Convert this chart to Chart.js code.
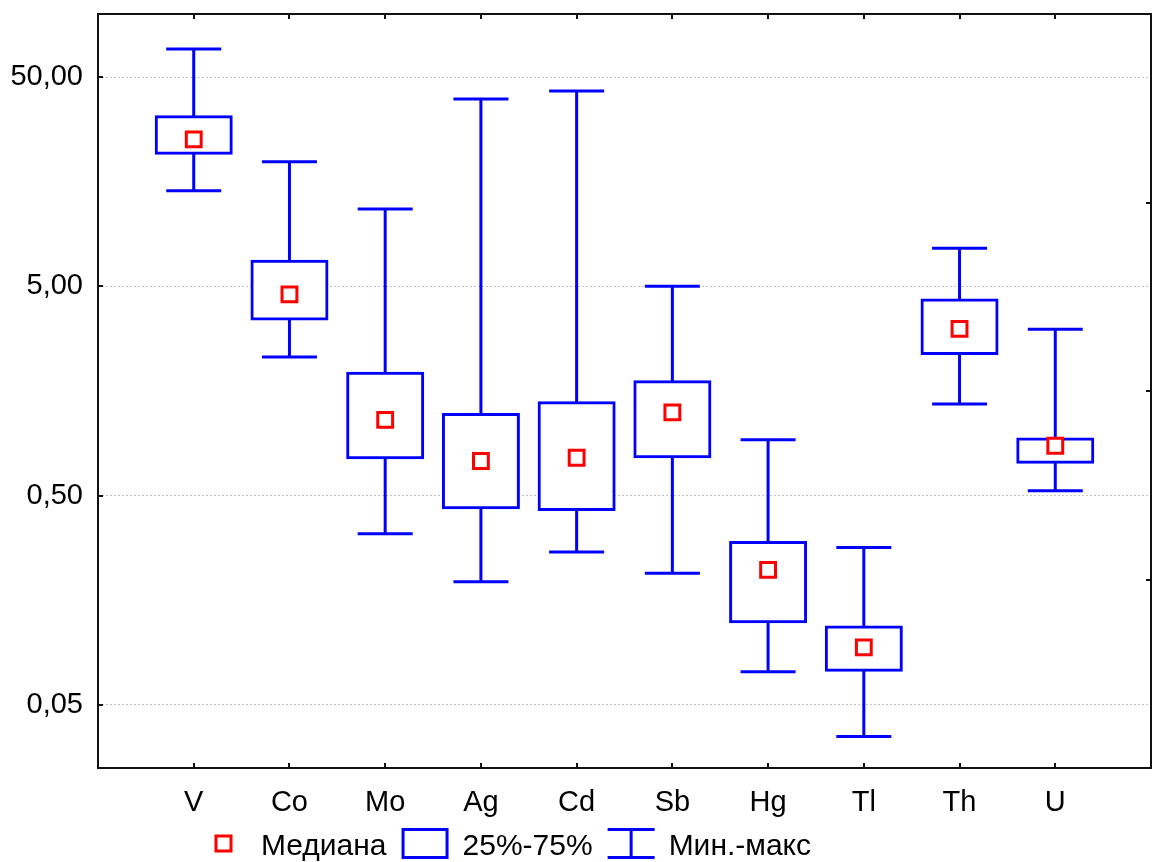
<!DOCTYPE html>
<html>
<head>
<meta charset="utf-8">
<title>Box plot</title>
<script src="https://cdn.jsdelivr.net/npm/chart.js@4.4.1/dist/chart.umd.min.js"></script>
<style>
  html, body { margin: 0; padding: 0; background: #ffffff; }
  #wrap { width: 1157px; height: 862px; position: relative; }
</style>
</head>
<body>
<div id="wrap"><canvas id="chart"></canvas></div>
<script>
// Elements and their summary statistics
const categories = ['V', 'Co', 'Mo', 'Ag', 'Cd', 'Sb', 'Hg', 'Tl', 'Th', 'U'];
const minVals    = [14.3, 2.30, 0.329, 0.194, 0.269, 0.213, 0.072, 0.0354, 1.37, 0.528];
const q1Vals     = [21.6, 3.49, 0.759, 0.438, 0.429, 0.768, 0.125, 0.0733, 2.39, 0.722];
const medianVals = [25.2, 4.58, 1.15,  0.732, 0.759, 1.25,  0.221, 0.0943, 3.13, 0.866];
const q3Vals     = [32.3, 6.59, 1.92,  1.22,  1.39,  1.75,  0.299, 0.118,  4.30, 0.933];
const maxVals    = [68.0, 19.7, 11.7,  39.3,  42.9,  5.00,  0.926, 0.283,  7.60, 3.12];

// Axis ticks and legend entries
const yTickValues = [0.05, 0.5, 5, 50];
const yRange = [0.025, 100];
const legendLabels = ['Медиана', '25%-75%', 'Мин.-макс'];

const BLUE = '#0000ff';
const RED = '#ff0000';
const FONT = "'Liberation Sans', Arial, sans-serif";

// empty slots on both ends leave room around the first and last box
const axisLabels = ['', ...categories, ''];
const pad = arr => [null, ...arr, null];

const boxData = pad(categories.map((_, i) => [q1Vals[i], q3Vals[i]]));
const rangeData = pad(categories.map((_, i) => [minVals[i], maxVals[i]]));

const fmt = v => v.toFixed(2).replace('.', ',');

// Plot frame with inward tick marks on all four sides
const framePlugin = {
  id: 'frame',
  afterDraw(chart) {
    const { ctx, chartArea: a, scales } = chart;
    const T = 5;
    ctx.save();
    ctx.strokeStyle = '#111111';
    ctx.lineWidth = 2;
    ctx.strokeRect(a.left, a.top, a.right - a.left, a.bottom - a.top);
    ctx.beginPath();
    scales.x.ticks.forEach((t, i) => {
      if (!axisLabels[i]) return;
      const px = Math.round(scales.x.getPixelForTick(i));
      ctx.moveTo(px, a.top); ctx.lineTo(px, a.top + T);
      ctx.moveTo(px, a.bottom); ctx.lineTo(px, a.bottom - T);
    });
    scales.y.ticks.forEach(t => {
      const py = Math.round(scales.y.getPixelForValue(t.value));
      ctx.moveTo(a.left, py); ctx.lineTo(a.left + T, py);
    });
    scales.y2.ticks.forEach(t => {
      if (t.value <= scales.y2.min || t.value >= scales.y2.max) return;
      const py = Math.round(scales.y2.getPixelForValue(t.value));
      ctx.moveTo(a.right, py); ctx.lineTo(a.right - T, py);
    });
    ctx.stroke();
    ctx.restore();
  }
};

// Legend row: median marker, quartile box, min-max whisker
const legendPlugin = {
  id: 'boxLegend',
  afterDraw(chart) {
    const { ctx } = chart;
    const cy = 843.5;
    const slot = 47;
    const gapText = 14;
    const gapItem = 15;
    let x = 200;
    ctx.save();
    ctx.font = '30px ' + FONT;
    ctx.fillStyle = '#000000';
    ctx.textBaseline = 'alphabetic';
    ctx.lineWidth = 3;
    legendLabels.forEach((label, i) => {
      const cx = x + slot / 2;
      ctx.beginPath();
      if (i === 0) {
        ctx.strokeStyle = RED;
        ctx.rect(cx - 7.5, cy - 7.5, 15, 15);
      } else if (i === 1) {
        ctx.strokeStyle = BLUE;
        ctx.rect(x + 1.5, cy - 14, slot - 3, 28);
      } else {
        ctx.strokeStyle = BLUE;
        ctx.moveTo(x, cy - 14); ctx.lineTo(x + slot, cy - 14);
        ctx.moveTo(x, cy + 14); ctx.lineTo(x + slot, cy + 14);
        ctx.moveTo(cx, cy - 14); ctx.lineTo(cx, cy + 14);
      }
      ctx.stroke();
      const tx = x + slot + gapText;
      ctx.fillText(label, tx, cy + 11);
      x = tx + ctx.measureText(label).width + gapItem;
    });
    ctx.restore();
  }
};

new Chart(document.getElementById('chart'), {
  type: 'bar',
  data: {
    labels: axisLabels,
    datasets: [
      {
        type: 'line',
        label: legendLabels[0],
        data: pad(medianVals),
        showLine: false,
        pointStyle: 'rect',
        pointRadius: 10.5,
        pointBorderWidth: 3,
        pointBorderColor: RED,
        pointBackgroundColor: '#ffffff',
        order: 0
      },
      {
        type: 'bar',
        label: legendLabels[1],
        data: boxData,
        grouped: false,
        barThickness: 75,
        borderWidth: 3,
        inflateAmount: 1.5,
        borderSkipped: false,
        borderColor: BLUE,
        backgroundColor: '#ffffff',
        order: 1
      },
      {
        type: 'line',
        label: 'max',
        data: pad(maxVals),
        showLine: false,
        pointStyle: 'line',
        pointRadius: 27.5,
        pointBorderWidth: 3,
        pointBorderColor: BLUE,
        order: 2
      },
      {
        type: 'line',
        label: 'min',
        data: pad(minVals),
        showLine: false,
        pointStyle: 'line',
        pointRadius: 27.5,
        pointBorderWidth: 3,
        pointBorderColor: BLUE,
        order: 2
      },
      {
        type: 'bar',
        label: legendLabels[2],
        data: rangeData,
        grouped: false,
        barThickness: 3,
        borderWidth: 0,
        inflateAmount: 0,
        backgroundColor: BLUE,
        order: 3
      }
    ]
  },
  options: {
    responsive: true,
    maintainAspectRatio: false,
    animation: false,
    events: [],
    layout: { autoPadding: false, padding: { top: 14, right: 0, bottom: 0, left: 0 } },
    plugins: {
      legend: { display: false },
      tooltip: { enabled: false }
    },
    scales: {
      x: {
        type: 'category',
        offset: false,
        grid: { display: false, drawTicks: false },
        border: { display: false },
        ticks: {
          autoSkip: false,
          maxRotation: 0,
          padding: 18,
          color: '#000000',
          font: { family: FONT, size: 29 }
        },
        afterFit(scale) {
          scale.height = 94;
          scale.paddingLeft = 0;
          scale.paddingRight = 0;
        }
      },
      y: {
        type: 'logarithmic',
        position: 'left',
        min: yRange[0],
        max: yRange[1],
        afterBuildTicks(scale) {
          scale.ticks = yTickValues.map(v => ({ value: v }));
        },
        grid: { color: '#c4c4c4', lineWidth: 1, drawTicks: false },
        border: { display: false, dash: [2, 2] },
        ticks: {
          autoSkip: false,
          padding: 15,
          color: '#000000',
          font: { family: FONT, size: 29 },
          callback: v => fmt(v)
        },
        afterFit(scale) {
          scale.width = 98;
          scale.paddingTop = 0;
          scale.paddingBottom = 0;
        }
      },
      y2: {
        type: 'linear',
        position: 'right',
        min: 0,
        max: 4,
        ticks: { display: false, stepSize: 1 },
        grid: { display: false, drawTicks: false },
        border: { display: false },
        afterFit(scale) {
          scale.width = 6;
          scale.paddingTop = 0;
          scale.paddingBottom = 0;
        }
      }
    }
  },
  plugins: [framePlugin, legendPlugin]
});
</script>
</body>
</html>
